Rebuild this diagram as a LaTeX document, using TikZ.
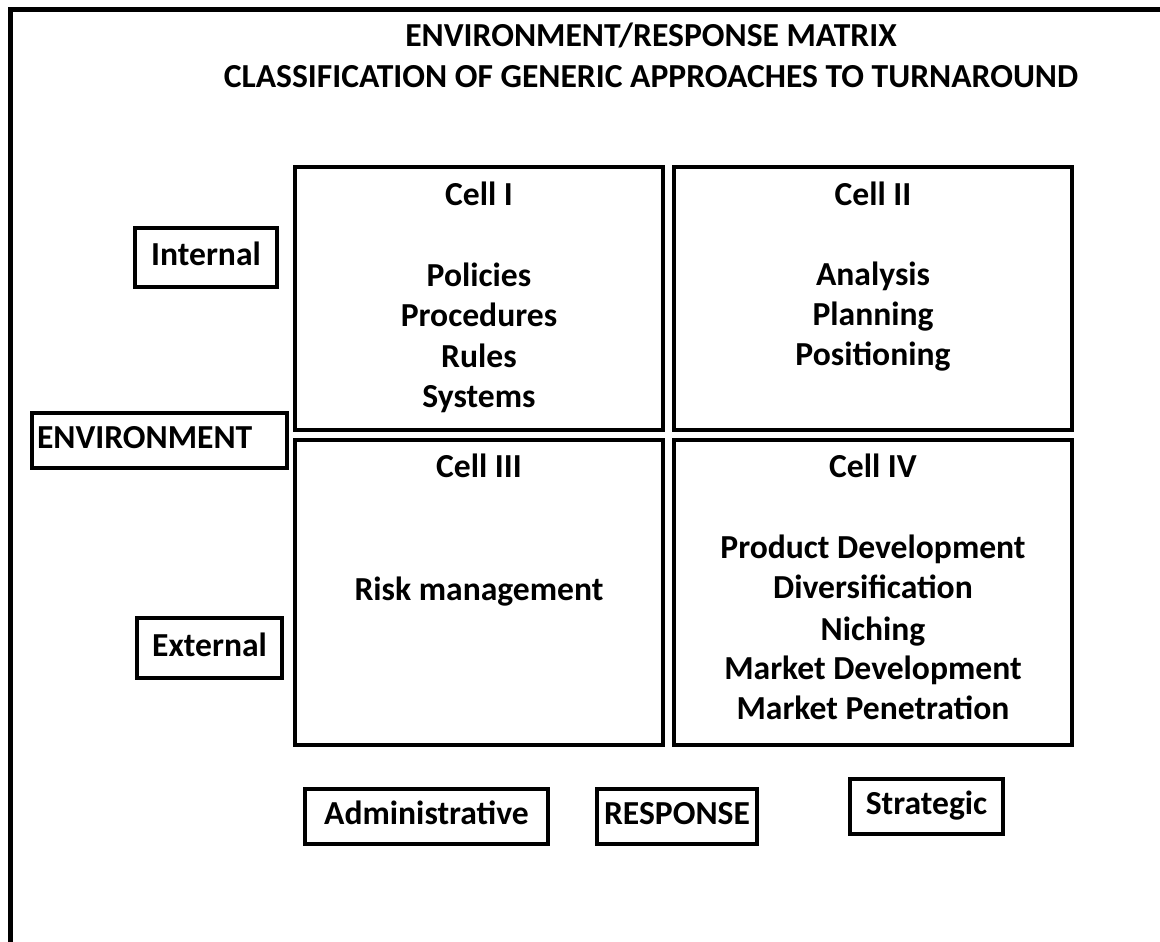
\documentclass[tikz,border=0pt]{standalone}
\usepackage{fontspec}
\setmainfont{Carlito}
\usetikzlibrary{positioning}

\begin{document}
\begin{tikzpicture}[x=0.75pt, y=-0.75pt,
    every node/.style={font=\bfseries\fontsize{25.2}{30}\selectfont, inner sep=0pt},
    cell/.style={draw, line width=3pt},
    tag/.style={draw, line width=3pt, text height=16.8pt, text depth=4.6pt},
    txt/.style={anchor=base}]

\useasboundingbox (0,0) rectangle (1160,942);

% Outer frame
\draw[line width=3.75pt] (10.5,942) -- (10.5,9.5) -- (1160,9.5);

% Title
\node[txt] (title1) at (651,47) {ENVIRONMENT/RESPONSE MATRIX};
\node[txt] (title2) at (651,88) {CLASSIFICATION OF GENERIC APPROACHES TO TURNAROUND};

% Cells
\node[cell, minimum width=276pt, minimum height=197.25pt] (c1) at (479,298.5) {};
\node[cell, minimum width=298.5pt, minimum height=197.25pt] (c2) at (873,298.5) {};
\node[cell, minimum width=276pt, minimum height=228.75pt] (c3) at (479,592.5) {};
\node[cell, minimum width=298.5pt, minimum height=228.75pt] (c4) at (873,592.5) {};

% Cell headings
\node[txt] (h1) at (479,205) {Cell I};
\node[txt] (h2) at (873,205) {Cell II};
\node[txt] (h3) at (479,477) {Cell III};
\node[txt] (h4) at (873,477) {Cell IV};

% Cell contents
\foreach \t/\y [count=\k] in {Policies/286, Procedures/326, Rules/367, Systems/407} {
    \node[txt] (a\k) at (479,\y) {\t};
}
\foreach \t/\y [count=\k] in {Analysis/285, Planning/325, Positioning/365} {
    \node[txt] (b\k) at (873,\y) {\t};
}
\node[txt] (r1) at (479,600) {Risk management};
\foreach \t/\y [count=\k] in {Product Development/558, Diversification/598, Niching/640, Market Development/679, Market Penetration/719} {
    \node[txt] (d\k) at (873,\y) {\t};
}

% Environment labels
\node[tag, minimum width=106.5pt, minimum height=44.25pt] (internal) at (206,257.5) {Internal};
\node[tag, text width=183.75pt, inner xsep=3.75pt, align=left, minimum height=41.25pt] (env) at (159.5,440.5) {ENVIRONMENT};
\node[tag, minimum width=108.75pt, minimum height=45pt] (external) at (209.5,648) {External};

% Response labels
\node[tag, minimum width=182.25pt, minimum height=41.25pt] (admin) at (426.5,816) {Administrative};
\node[tag, minimum width=120pt, minimum height=41.25pt] (resp) at (677,816) {RESPONSE};
\node[tag, minimum width=114.75pt, minimum height=41.25pt] (strat) at (926.5,806.5) {Strategic};

\end{tikzpicture}
\end{document}
